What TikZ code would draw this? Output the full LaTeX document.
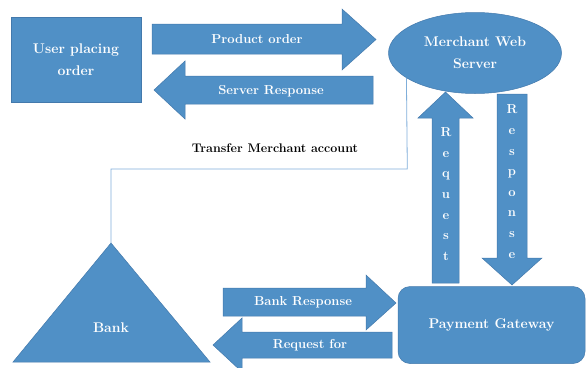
\documentclass[tikz,border=0pt]{standalone}
\usetikzlibrary{shapes.geometric}
\definecolor{boxblue}{HTML}{5090C6}
\definecolor{edgeblue}{HTML}{4379AC}
\definecolor{wireblue}{HTML}{7FAEDA}

\begin{document}
\begin{tikzpicture}[x=1pt, y=-1pt,
    blockstyle/.style={fill=boxblue, draw=edgeblue, line width=0.5pt},
    labelstyle/.style={text=white, align=center, font=\bfseries\fontsize{13}{15}\selectfont},
    boxlabel/.style={labelstyle, font=\bfseries\fontsize{14}{22}\selectfont},
    stackstyle/.style={labelstyle, font=\bfseries\fontsize{13}{20.6}\selectfont},
    wirestyle/.style={draw=wireblue, line width=0.8pt}]
  \useasboundingbox (0,0) rectangle (586,367);
  % main blocks
  \node[blockstyle, boxlabel, minimum width=130, minimum height=85] (user) at (76,59.5) {User placing\\order};
  \node[blockstyle, boxlabel, ellipse, inner sep=0, minimum width=173, minimum height=81] (server) at (475,53) {Merchant Web\\Server};
  \node[blockstyle, boxlabel, rounded corners=12, minimum width=187, minimum height=77] (gateway) at (491.5,325) {Payment Gateway};
  \path[blockstyle] (111,243) -- (13,362) -- (210,362) -- cycle;
  \coordinate (banktop) at (111,243);
  \node[boxlabel] (bank) at (111,328) {Bank};
  % thin link bank -> server
  \coordinate (turn) at (407.3,169);
  \draw[wirestyle] (banktop) |- (turn) -- (server.200);
  \node[font=\bfseries\fontsize{12.5}{14}\selectfont] (transfer) at (275,148) {Transfer Merchant account};
  % user <-> server
  \path[blockstyle] (152,24) -- (342,24) -- (342,9) -- (376,39.5) -- (342,70) -- (342,54) -- (152,54) -- cycle;
  \node[labelstyle] (product) at (257,39) {Product order};
  \path[blockstyle] (373,76) -- (185,76) -- (185,61) -- (154,90) -- (185,119) -- (185,104) -- (373,104) -- cycle;
  \node[labelstyle] (sresp) at (271,91) {Server Response};
  % gateway <-> server
  \path[blockstyle] (432,283) -- (432,118) -- (418,118) -- (445.5,92) -- (473,118) -- (459,118) -- (459,283) -- cycle;
  \node[stackstyle] (request) at (446,194) {R\\e\\q\\u\\e\\s\\t};
  \path[blockstyle] (497,94) -- (527,94) -- (527,258) -- (542,258) -- (512,285) -- (482,258) -- (497,258) -- cycle;
  \node[stackstyle] (response) at (512,181.5) {R\\e\\s\\p\\o\\n\\s\\e};
  % bank <-> gateway
  \path[blockstyle] (223,288) -- (366,288) -- (366,275) -- (396,303) -- (366,330) -- (366,316) -- (223,316) -- cycle;
  \node[labelstyle] (bresp) at (303,302) {Bank Response};
  \path[blockstyle] (392,332) -- (242,332) -- (242,318) -- (213,345) -- (242,372) -- (242,358) -- (392,358) -- cycle;
  \node[labelstyle] (breq) at (310,345) {Request for};
\end{tikzpicture}
\end{document}
